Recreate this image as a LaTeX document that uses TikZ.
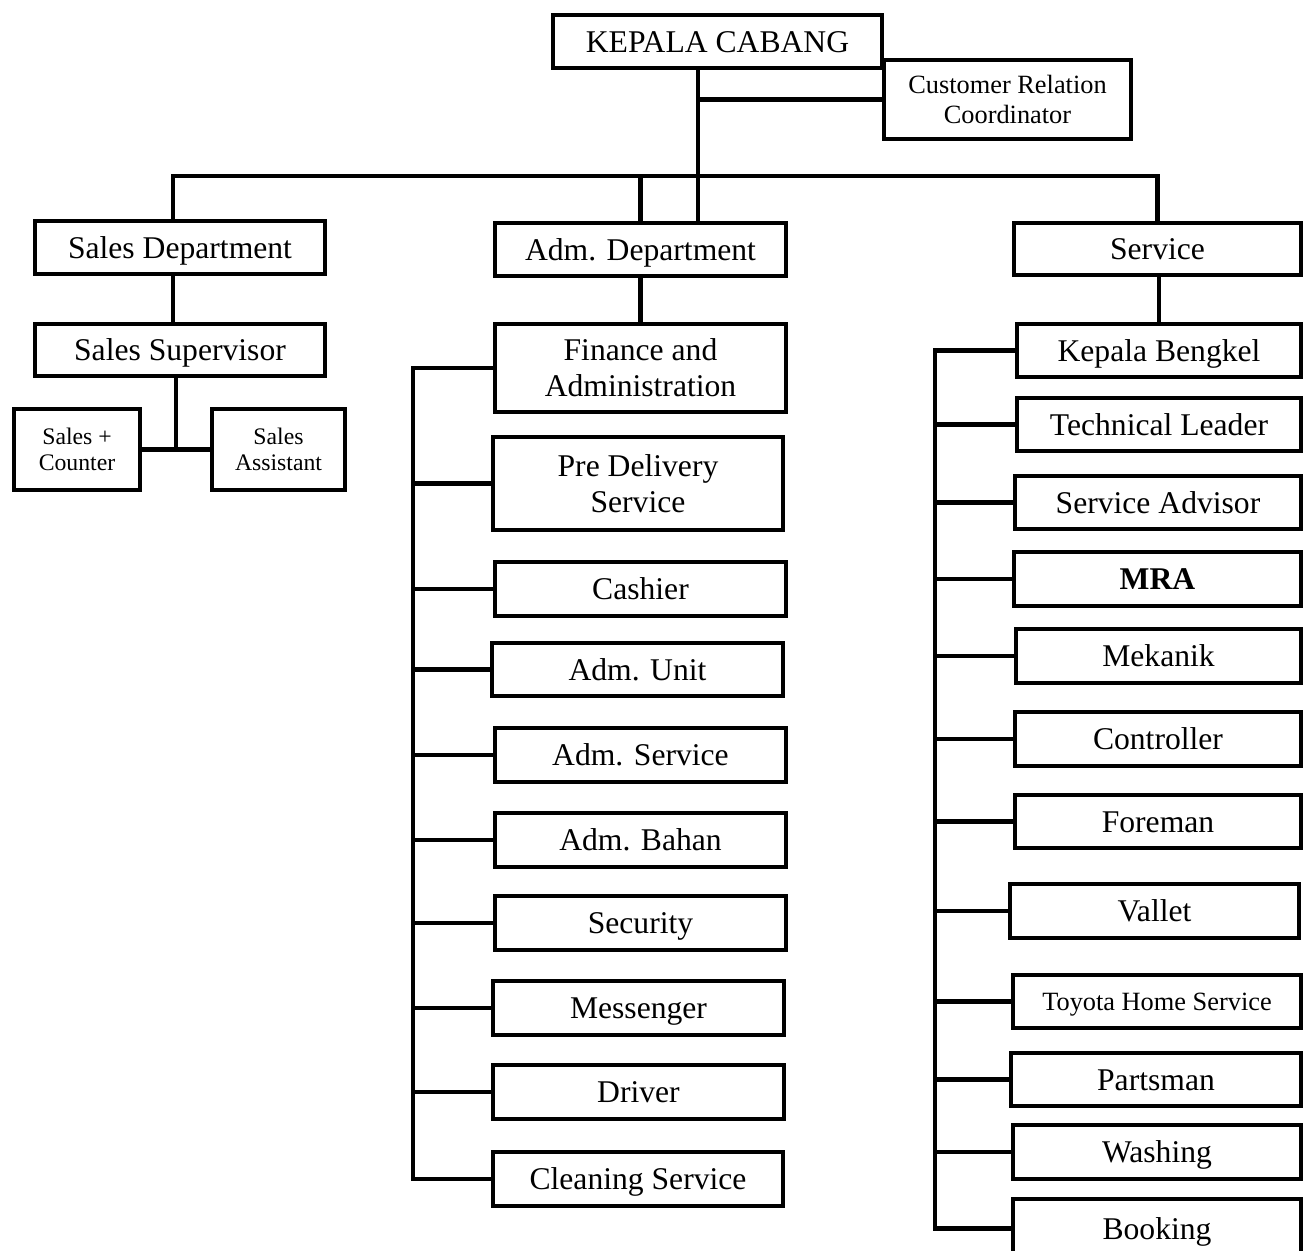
\documentclass[tikz,border=0pt]{standalone}
\usepackage{fontspec}
\setmainfont{Liberation Serif}
\begin{document}
\begin{tikzpicture}[x=0.02cm,y=-0.02cm,
  box/.style={draw=black, line width=2.7pt, fill=white, rectangle, inner sep=1pt, align=center, font=\fontsize{18}{20.4}\selectfont},
  one/.style={text height=17pt, text depth=4.5pt},
  mid/.style={font=\fontsize{15}{17}\selectfont},
  small/.style={font=\fontsize{13.5}{14.8}\selectfont},
  conn/.style={draw=black, line width=2.7pt}]
\useasboundingbox (0,0) rectangle (1306,1251);
% top
\node[box, one, minimum width=6.58cm, minimum height=1.06cm] (kc) at (717.5,41.5) {KEPALA CABANG};
\coordinate (tr) at (698,176);
\coordinate (hl) at (173,176);
\coordinate (sj) at (176,449.5);
\coordinate (bl) at (413,0);
\coordinate (br) at (935,0);
% sales
\node[box, one, minimum width=5.80cm, minimum height=1.06cm] (sd) at (180,247.5) {Sales Department};
\node[box, one, minimum width=5.80cm, minimum height=1.04cm] (ss) at (180,350) {Sales Supervisor};
\node[box, small, minimum width=2.52cm, minimum height=1.62cm] (sc) at (77,449.5) {Sales +\\Counter};
\node[box, small, minimum width=2.66cm, minimum height=1.62cm] (sa) at (278.5,449.5) {Sales\\Assistant};
% adm
\node[box, one, minimum width=5.82cm, minimum height=1.06cm] (ad) at (640.5,249.5) {Adm. Department};
\node[box, minimum width=5.82cm, minimum height=1.76cm] (fa) at (640.5,368) {\rule{0pt}{10pt}Finance and\\Administration};
\node[box, minimum width=5.80cm, minimum height=1.86cm] (pd) at (638,483.5) {Pre Delivery\\Service};
\node[box, one, minimum width=5.82cm, minimum height=1.08cm] (cs) at (640.5,589) {Cashier};
\node[box, one, minimum width=5.82cm, minimum height=1.06cm] (au) at (637.5,669.5) {Adm. Unit};
\node[box, one, minimum width=5.82cm, minimum height=1.08cm] (asv) at (640.5,755) {Adm. Service};
\node[box, one, minimum width=5.82cm, minimum height=1.08cm] (ab) at (640.5,840) {Adm. Bahan};
\node[box, one, minimum width=5.82cm, minimum height=1.08cm] (sec) at (640.5,923) {Security};
\node[box, one, minimum width=5.82cm, minimum height=1.08cm] (msg) at (638.5,1008) {Messenger};
\node[box, one, minimum width=5.82cm, minimum height=1.08cm] (drv) at (638.5,1092) {Driver};
\node[box, one, minimum width=5.80cm, minimum height=1.08cm] (cln) at (638,1179) {Cleaning Service};
% service
\node[box, one, minimum width=5.74cm, minimum height=1.04cm] (sv) at (1157.5,249) {Service};
\node[box, one, minimum width=5.68cm, minimum height=1.06cm] (kb) at (1159,350.5) {Kepala Bengkel};
\node[box, one, minimum width=5.68cm, minimum height=1.06cm] (tl) at (1159,424.5) {Technical Leader};
\node[box, one, minimum width=5.72cm, minimum height=1.06cm] (sadv) at (1158,502.5) {Service Advisor};
\node[box, one, minimum width=5.74cm, minimum height=1.08cm] (mra) at (1157.5,579) {\textbf{MRA}};
\node[box, one, minimum width=5.70cm, minimum height=1.08cm] (mek) at (1158.5,656) {Mekanik};
\node[box, one, minimum width=5.72cm, minimum height=1.08cm] (ctl) at (1158,739) {Controller};
\node[box, one, minimum width=5.72cm, minimum height=1.06cm] (frm) at (1158,821.5) {Foreman};
\node[box, one, minimum width=5.78cm, minimum height=1.08cm] (val) at (1154.5,911) {Vallet};
\node[box, mid, text height=14pt, text depth=3.8pt, minimum width=5.76cm, minimum height=1.06cm] (ths) at (1157,1001.5) {Toyota Home Service};
\node[box, one, minimum width=5.80cm, minimum height=1.06cm] (prt) at (1156,1079.5) {Partsman};
\node[box, one, minimum width=5.76cm, minimum height=1.08cm] (wsh) at (1157,1152) {Washing};
\node[box, one, minimum width=5.76cm, minimum height=1.18cm] (bkg) at (1157,1228.5) {Booking};
% connectors
\draw[conn] (kc.south -| tr) -- (ad.north -| tr);
\draw[conn] (sd.north -| hl) -- (hl) -- (sv.north |- hl) -- (sv.north);
\draw[conn] (ad.north) -- (ad.north |- hl);
\draw[conn] (sd.south -| hl) -- (ss.north -| hl);
\draw[conn] (ss.south -| sj) -- (sj);
\draw[conn] (sc.east) -- (sa.west);
\draw[conn] (ad.south) -- (fa.north);
\draw[conn] (kb.north |- sv.south) -- (kb.north);
\draw[conn] (fa.west) -- (fa.west -| bl) -- (cln.west -| bl) -- (cln.west);
\foreach \n in {pd,cs,au,asv,ab,sec,msg,drv} \draw[conn] (\n.west) -- (\n.west -| bl);
\draw[conn] (kb.west) -- (kb.west -| br) -- (bkg.west -| br) -- (bkg.west);
\foreach \n in {tl,sadv,mra,mek,ctl,frm,val,ths,prt,wsh} \draw[conn] (\n.west) -- (\n.west -| br);
% customer relation box on top of the chief's box
\node[box, mid, minimum width=4.94cm, minimum height=1.58cm] (crc) at (1007.5,99.5) {Customer Relation\\Coordinator};
\draw[conn] (tr |- crc.west) -- (crc.west);
\end{tikzpicture}
\end{document}
